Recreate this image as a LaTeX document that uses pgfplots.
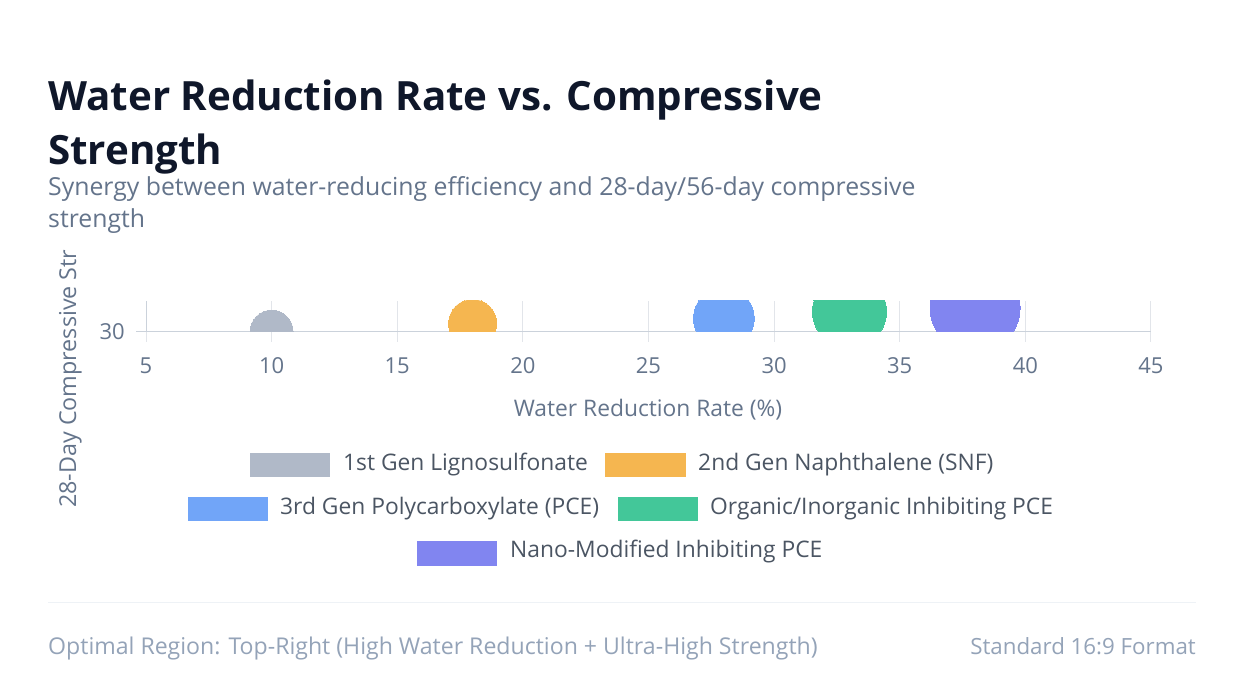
\documentclass[border=0pt]{standalone}
\usepackage{pgfplots}
\pgfplotsset{compat=1.18}
\usepackage{fontspec}
\setmainfont{Open Sans}
\definecolor{titlec}{HTML}{0F172A}
\definecolor{subc}{HTML}{64748B}
\definecolor{tickc}{HTML}{64748B}
\definecolor{legc}{HTML}{4B5563}
\definecolor{footc}{HTML}{94A3B8}
\definecolor{gridc}{HTML}{E2E5EA}
\definecolor{axc}{HTML}{CBD2DB}
\definecolor{divc}{HTML}{EEF2F6}
\definecolor{cgray}{HTML}{B0B9C8}
\definecolor{corange}{HTML}{F5B650}
\definecolor{cblue}{HTML}{71A5F8}
\definecolor{cgreen}{HTML}{43C799}
\definecolor{cpurple}{HTML}{8185F0}
\begin{document}
\begin{tikzpicture}[x=1pt,y=1pt]
\useasboundingbox (0,0) rectangle (1246,700);
\fill[white] (0,0) rectangle (1246,700);
% title
\node[anchor=base west, inner sep=0, text=titlec, font=\fontsize{40.3}{48}\selectfont\bfseries] at (48,589) {Water Reduction Rate vs. Compressive};
\node[anchor=base west, inner sep=0, text=titlec, font=\fontsize{40.3}{48}\selectfont\bfseries] at (48,535) {Strength};
\node[anchor=base west, inner sep=0, text=subc, font=\fontsize{24.8}{28}\selectfont] at (48,504) {Synergy between water-reducing efficiency and 28-day/56-day compressive};
\node[anchor=base west, inner sep=0, text=subc, font=\fontsize{24.8}{28}\selectfont] at (48,472) {strength};
\begin{axis}[
  at={(146pt,368.3pt)}, anchor=south west,
  scale only axis, width=1005pt, height=30.7pt,
  xmin=5, xmax=45, ymin=30, ymax=100,
  xtick={5,10,...,45}, ytick={30},
  xmajorgrids, x grid style={gridc, line width=1pt},
  axis x line*=bottom, axis y line*=left,
  axis line style={axc, line width=1pt, -},
  tick align=outside,
  major tick length=10pt,
  x tick style={gridc, line width=1pt},
  y tick style={axc, line width=1pt},
  /pgf/number format/assume math mode=true,
  tick label style={font=\fontsize{22}{26}\selectfont, text=tickc},
  xticklabel style={anchor=base, inner sep=0pt, yshift=-32pt},
  yticklabel style={anchor=east, inner sep=0pt, xshift=-11pt},
  clip marker paths=true,
]
\addplot[only marks, mark=*, color=cgray, mark size=21.5pt, mark options={draw=cgray, fill=cgray, line width=0pt}] coordinates {(10,30)};
\addplot[only marks, mark=*, color=corange, mark size=24pt, mark options={draw=corange, fill=corange, line width=0pt}] coordinates {(18,49)};
\addplot[only marks, mark=*, color=cblue, mark size=30.3pt, mark options={draw=cblue, fill=cblue, line width=0pt}] coordinates {(28,61)};
\addplot[only marks, mark=*, color=cgreen, mark size=37pt, mark options={draw=cgreen, fill=cgreen, line width=0pt}] coordinates {(33,76)};
\addplot[only marks, mark=*, color=cpurple, mark size=45pt, mark options={draw=cpurple, fill=cpurple, line width=0pt}] coordinates {(38,85)};
\end{axis}
% axis titles
\node[anchor=base, inner sep=0, text=tickc, font=\fontsize{22.8}{26}\selectfont] at (648,283) {Water Reduction Rate (\%)};
\node[anchor=base west, inner sep=0, rotate=90, text=tickc, font=\fontsize{23.3}{26}\selectfont] at (76,192) {28-Day Compressive Str};
% legend
\begin{scope}[font=\fontsize{22.8}{26}\selectfont]
\fill[cgray] (250,223) rectangle (330,247);
\node[anchor=base west, inner sep=0, text=legc] at (343,229) {1st Gen Lignosulfonate};
\fill[corange] (605,223) rectangle (686,247);
\node[anchor=base west, inner sep=0, text=legc] at (698,229) {2nd Gen Naphthalene (SNF)};
\fill[cblue] (188,179) rectangle (268,203);
\node[anchor=base west, inner sep=0, text=legc] at (280,185) {3rd Gen Polycarboxylate (PCE)};
\fill[cgreen] (618,179) rectangle (698,203);
\node[anchor=base west, inner sep=0, text=legc] at (710,185) {Organic/Inorganic Inhibiting PCE};
\fill[cpurple] (417,134) rectangle (497,159);
\node[anchor=base west, inner sep=0, text=legc] at (510,142) {Nano-Modified Inhibiting PCE};
\end{scope}
% footer
\draw[divc, line width=1pt] (48,97) -- (1196,97);
\node[anchor=base west, inner sep=0, text=footc, font=\fontsize{23.1}{26}\selectfont] at (48,45) {Optimal Region: Top-Right (High Water Reduction + Ultra-High Strength)};
\node[anchor=base east, inner sep=0, text=footc, font=\fontsize{22.3}{26}\selectfont] at (1196,45) {Standard 16:9 Format};
\end{tikzpicture}
\end{document}
